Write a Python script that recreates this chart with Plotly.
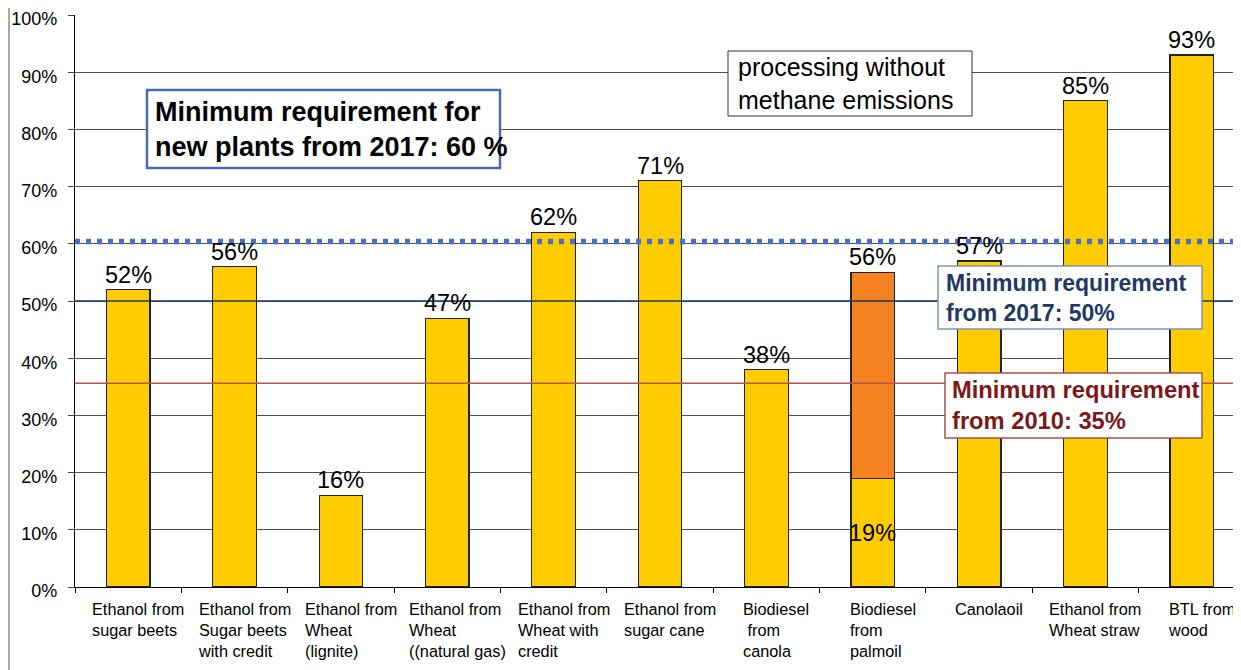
import plotly.graph_objects as go

# ---------------- data ----------------
categories = [
    "Ethanol from<br>sugar beets",
    "Ethanol from<br>Sugar beets<br>with credit",
    "Ethanol from<br>Wheat<br>(lignite)",
    "Ethanol from<br>Wheat<br>((natural gas)",
    "Ethanol from<br>Wheat with<br>credit",
    "Ethanol from<br>sugar cane",
    "Biodiesel<br> from<br>canola",
    "Biodiesel<br>from<br>palmoil",
    "Canolaoil",
    "Ethanol from<br>Wheat straw",
    "BTL from<br>wood",
]
base_values = [52, 56, 16, 47, 62, 71, 38, 19, 57, 85, 93]
extra_values = [None, None, None, None, None, None, None, 36, None, None, None]
top_labels = ["52%", "56%", "16%", "47%", "62%", "71%", "38%", "56%", "57%", "85%", "93%"]
inner_labels = [None, None, None, None, None, None, None, "19%", None, None, None]

threshold_values = [60.4, 50, 35.6]
threshold_colors = ["#4A6FC2", "#1F3864", "#B85450"]
threshold_widths = [5.5, 1.5, 1.5]
threshold_dash = ["5px,6px", "solid", "solid"]

y_ticks = list(range(0, 101, 10))

FONT = "Liberation Sans, Arial, sans-serif"
W, H = 1241, 670
OFF = 8  # page body margin
L, R, T, B = 67, 4, 7, 91
PW = W - L - R
PH = H - T - B


def px(xp):
    """page pixel x -> paper fraction"""
    return (xp - OFF - L) / PW


def py(yp):
    """page pixel y -> y data units"""
    return (H - B - (yp - OFF)) / PH * 100


fig = go.Figure()
fig.add_trace(go.Bar(
    x=categories, y=base_values, width=0.41,
    marker=dict(color="#FFCC00", line=dict(color="#222222", width=1.2)),
    hoverinfo="skip", showlegend=False,
))
fig.add_trace(go.Bar(
    x=categories, y=extra_values, width=0.41,
    marker=dict(color="#F58220", line=dict(color="#222222", width=1.2)),
    hoverinfo="skip", showlegend=False,
))

shapes = []
# border line on the left of the chart
shapes.append(dict(type="line", xref="paper", yref="paper",
                   x0=-(L - 1) / PW, x1=-(L - 1) / PW, y0=-(B + 20) / PH, y1=1 + (T + 20) / PH,
                   line=dict(color="#8C8C8C", width=1.5)))
for v, c, w, d in zip(threshold_values, threshold_colors, threshold_widths, threshold_dash):
    shapes.append(dict(type="line", xref="paper", yref="y", x0=0, x1=1, y0=v, y1=v,
                       line=dict(color=c, width=w, dash=d), layer="above"))

annotations = []
# text boxes: (left, top, right, bottom, border color, border width, text, size, bold, color, text_left)
boxes = [
    (147, 90, 500, 168, "#4A6BB0", 2.5, "Minimum requirement for<br>new plants from 2017: 60 %", 27, True, "#000000", 153),
    (728, 51, 972, 116, "#333333", 1, "processing without<br>methane emissions", 25, False, "#000000", 736),
    (938, 266, 1202, 329, "#7F93B5", 1.5, "Minimum requirement<br>from 2017: 50%", 23, True, "#1F3864", 944),
    (945, 373, 1202, 438, "#A85050", 1.5, "Minimum requirement<br>from 2010: 35%", 23.7, True, "#7B1818", 950),
]
for (x0, y0, x1, y1, bc, bw, txt, size, bold, col, tl) in boxes:
    shapes.append(dict(type="rect", xref="paper", yref="y",
                       x0=px(x0), x1=px(x1), y0=py(y0), y1=py(y1),
                       fillcolor="white", line=dict(color=bc, width=bw), layer="above"))
    annotations.append(dict(
        xref="paper", yref="y", x=px(tl), y=py((y0 + y1) / 2),
        xanchor="left", yanchor="middle", align="left", showarrow=False,
        text=f"<b>{txt}</b>" if bold else txt,
        font=dict(family=FONT, size=size, color=col),
    ))

# value labels
for cat, b, e, lab, inner in zip(categories, base_values, extra_values, top_labels, inner_labels):
    total = b + (e or 0)
    annotations.append(dict(x=cat, y=total, xref="x", yref="y", text=lab, showarrow=False,
                            xanchor="center", yanchor="bottom",
                            font=dict(family=FONT, size=23.5, color="#000000")))
    if inner:
        annotations.append(dict(x=cat, y=b / 2, xref="x", yref="y", text=inner, showarrow=False,
                                xanchor="center", yanchor="middle",
                                font=dict(family=FONT, size=23.5, color="#000000")))

# category labels (left aligned lines)
for cat in categories:
    annotations.append(dict(x=cat, y=0, xref="x", yref="paper", text=cat, showarrow=False,
                            xanchor="center", yanchor="top", align="left", xshift=10, yshift=-11,
                            font=dict(family=FONT, size=16.3, color="#000000")))

fig.update_layout(
    width=W, height=H,
    margin=dict(l=L, r=R, t=T, b=B, pad=0, autoexpand=False),
    paper_bgcolor="white", plot_bgcolor="white",
    barmode="stack",
    shapes=shapes, annotations=annotations,
    font=dict(family=FONT, color="#000000"),
    showlegend=False,
)
fig.update_xaxes(
    type="category", range=[-0.5, len(categories) - 0.5], automargin=False,
    showticklabels=False, tickson="boundaries", ticks="outside", ticklen=5,
    tickcolor="#000000", showline=True, linecolor="#000000", linewidth=1.2,
    showgrid=False, zeroline=False,
)
fig.update_yaxes(
    range=[0, 100], tickvals=y_ticks, ticktext=[f"{v}%" for v in y_ticks],
    automargin=False,
    ticks="outside", ticklen=6, tickcolor="#404040", ticklabelstandoff=7,
    ticklabeloverflow="allow", ticklabelshift=4,
    tickfont=dict(family=FONT, size=18, color="#000000"),
    showgrid=True, gridcolor="#505050", gridwidth=1,
    showline=True, linecolor="#000000", linewidth=1.2, zeroline=False,
)

fig.write_html("out.html")
